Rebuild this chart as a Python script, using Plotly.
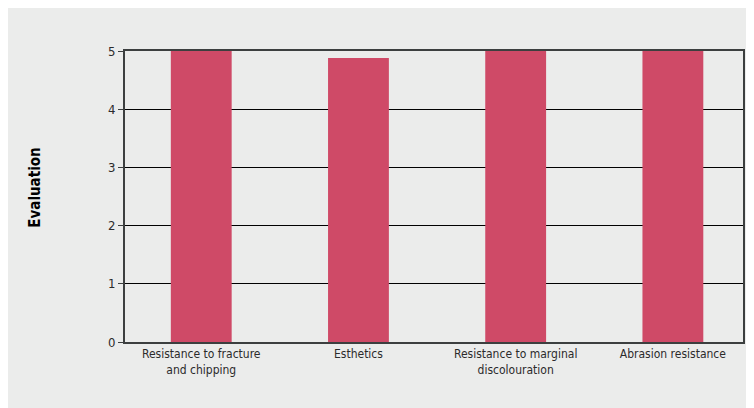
import plotly.graph_objects as go

# Ratings per criterion
categories = ['Resistance to fracture<br>and chipping', 'Esthetics',
              'Resistance to marginal<br>discolouration', 'Abrasion resistance']
scores = [5, 4.88, 5, 5]
y_ticks = [0, 1, 2, 3, 4, 5]

font_family = "DejaVu Sans Condensed, Liberation Sans Narrow, sans-serif"
bar_color = '#cf4a67'

fig = go.Figure()
fig.add_trace(go.Bar(
    x=list(range(len(categories))),
    y=scores,
    width=0.387,
    marker=dict(color=bar_color, line=dict(width=0)),
    showlegend=False,
))

# grey panel behind everything
fig.add_shape(type='rect', xref='paper', yref='paper',
              x0=-0.2, x1=1.02, y0=-0.25, y1=1.2,
              fillcolor='#ebeceb', line=dict(width=0), layer='below')

# y axis title placed by hand, further left than plotly would put it
fig.add_annotation(text='<b>Evaluation</b>', textangle=-90,
                   xref='paper', yref='paper', x=-0.163, y=0.531,
                   showarrow=False,
                   font=dict(family="DejaVu Sans Condensed, sans-serif", size=15, color='black'))

# page body has an 8px margin, so the figure is 8px smaller than the window
fig.update_layout(
    width=746, height=400,
    margin=dict(l=117, r=9, t=43, b=66),
    paper_bgcolor='white',
    plot_bgcolor='rgba(0,0,0,0)',
    font=dict(family=font_family, size=12, color='#2b2b2b'),
    xaxis=dict(
        tickvals=list(range(len(categories))),
        ticktext=categories,
        range=[-0.485, 3.446],
        showgrid=False,
        zeroline=False,
        showline=True, mirror=True,
        linecolor='#3c3f3f', linewidth=2,
        ticks='',
        tickfont=dict(family=font_family, size=12, color='#2b2b2b'),
    ),
    yaxis=dict(
        range=[0, 5],
        tickvals=y_ticks,
        showgrid=True, gridcolor='black', gridwidth=1,
        zeroline=False,
        showline=True, mirror=True,
        linecolor='#3c3f3f', linewidth=2,
        ticks='outside', ticklen=5, tickcolor='#3c3f3f',
        tickfont=dict(family=font_family, size=13, color='#2b2b2b'),
    ),
)

fig.write_html("out.html")
